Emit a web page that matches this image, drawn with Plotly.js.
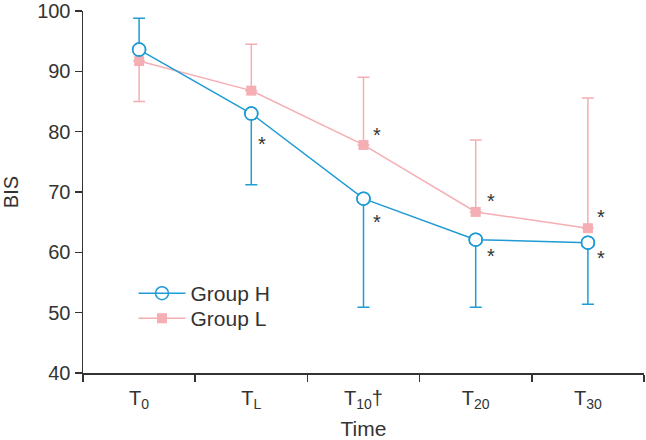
<!DOCTYPE html>
<html>
<head>
<meta charset="utf-8">
<script src="https://cdn.plot.ly/plotly-3.0.1.min.js"></script>
<style>html,body{margin:0;padding:0;background:#fff;}#chart{width:646px;height:440px;}</style>
</head>
<body>
<div id="chart"></div>
<script>
const categories = ["T0", "TL", "T10", "T20", "T30"];
const tickLabels = ["T<sub>0</sub>", "T<sub>L</sub>", "T<sub>10</sub>†", "T<sub>20</sub>", "T<sub>30</sub>"];
const groupH = [93.6, 83.0, 68.9, 62.1, 61.6];
const groupHErrUp = [5.2, 0, 0, 0, 0];
const groupHErrDown = [0, 11.8, 18.0, 11.2, 10.2];
const groupL = [91.7, 86.8, 77.8, 66.7, 64.0];
const groupLErrUp = [0, 7.7, 11.2, 11.9, 21.6];
const groupLErrDown = [6.7, 0, 0, 0, 0];
// significance markers (index of category in each group)
const starsHIdx = [1, 2, 3, 4];
const starsLIdx = [2, 3, 4];

// label offsets in px (layout only)
const starHShift = [[11, -30], [13, -23], [15, -16], [13, -15]];
const starLShift = [[13, 10], [15, 11], [13, 11]];

const blue = "#1f9bd5";
const pink = "#f5aeb3";
const textCol = "#333333";
const font = "Liberation Sans, Arial, sans-serif";

const traces = [
  {
    x: categories, y: groupL, name: "Group L", type: "scatter", mode: "lines+markers", legend: "legend2",
    line: {color: pink, width: 1.5},
    marker: {symbol: "square", size: 10, color: pink},
    error_y: {type: "data", symmetric: false, array: groupLErrUp, arrayminus: groupLErrDown,
      color: pink, thickness: 1.5, width: 6}
  },
  {
    x: categories, y: groupH, name: "Group H", type: "scatter", mode: "lines+markers", legend: "legend",
    line: {color: blue, width: 1.5},
    marker: {symbol: "circle-open", size: 13, color: blue, line: {width: 1.5, color: blue}},
    error_y: {type: "data", symmetric: false, array: groupHErrUp, arrayminus: groupHErrDown,
      color: blue, thickness: 1.5, width: 6}
  },
  {
    x: categories, y: groupH, type: "scatter", mode: "markers", showlegend: false, hoverinfo: "skip",
    marker: {symbol: "circle", size: 11, color: "#ffffff"}
  },
  {
    x: categories, y: groupH, type: "scatter", mode: "markers", showlegend: false, hoverinfo: "skip",
    marker: {symbol: "circle-open", size: 13, color: blue, line: {width: 1.5, color: blue}}
  }
];

const annotations = [];
starsHIdx.forEach((i, k) => annotations.push({x: categories[i], y: groupH[i], xref: "x", yref: "y", text: "*", showarrow: false,
  xshift: starHShift[k][0], yshift: starHShift[k][1], font: {size: 20, color: textCol, family: font}}));
starsLIdx.forEach((i, k) => annotations.push({x: categories[i], y: groupL[i], xref: "x", yref: "y", text: "*", showarrow: false,
  xshift: starLShift[k][0], yshift: starLShift[k][1], font: {size: 20, color: textCol, family: font}}));

const legendBase = {xanchor: "left", yanchor: "top", bgcolor: "rgba(0,0,0,0)", itemwidth: 47,
  font: {size: 21, color: textCol, family: font}};

const layout = {
  width: 646, height: 440,
  margin: {l: 83, r: 2, t: 11, b: 67},
  paper_bgcolor: "#fff", plot_bgcolor: "#fff",
  font: {family: font, color: textCol, size: 20},
  showlegend: true,
  legend: Object.assign({x: 0.09, y: 0.276}, legendBase),
  legend2: Object.assign({x: 0.09, y: 0.207}, legendBase),
  xaxis: {
    type: "category", range: [-0.5, 4.5], tickmode: "array", tickvals: categories, ticktext: tickLabels,
    tickson: "boundaries", ticks: "outside", ticklen: 7, tickcolor: textCol, tickwidth: 1.5,
    showline: true, linecolor: textCol, linewidth: 1.5, showgrid: false, zeroline: false,
    tickfont: {size: 20, color: textCol}, ticklabelstandoff: 6,
    title: {text: "Time", font: {size: 21, color: textCol}, standoff: 14}, automargin: false
  },
  yaxis: {
    range: [40, 100], dtick: 10, ticks: "outside", ticklen: 7, tickcolor: textCol, tickwidth: 1.5,
    showline: true, linecolor: textCol, linewidth: 1.5, showgrid: false, zeroline: false,
    tickfont: {size: 20, color: textCol}, ticklabeloverflow: "allow",
    title: {text: "BIS", font: {size: 20, color: textCol}, standoff: 17}, automargin: false
  },
  annotations: annotations
};

Plotly.newPlot("chart", traces, layout, {displayModeBar: false, staticPlot: true});
</script>
</body>
</html>
